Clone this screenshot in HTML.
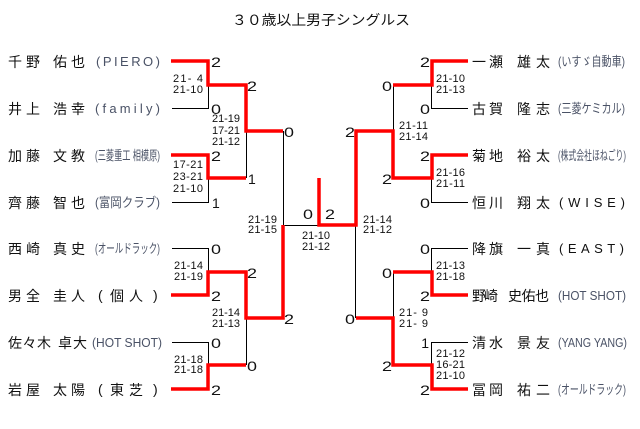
<!DOCTYPE html>
<html><head><meta charset="utf-8"><style>
html,body{margin:0;padding:0;background:#fff;}
svg{display:block;}
.n{font-family:"Liberation Sans","Noto Sans CJK JP",sans-serif;font-size:14px;fill:#111;}
.p{font-family:"Liberation Sans","Noto Sans CJK JP",sans-serif;font-size:13px;fill:#4a5266;}
.d{font-family:"Liberation Sans",sans-serif;font-size:14px;fill:#111;}
.s{font-family:"Liberation Sans",sans-serif;font-size:11px;fill:#111;}
.t{font-family:"Liberation Sans","Noto Sans CJK JP",sans-serif;font-size:14px;fill:#111;}
</style></head><body>
<svg width="640" height="429" viewBox="0 0 640 429" xmlns="http://www.w3.org/2000/svg">
<rect width="640" height="429" fill="#fff"/>
<text class="t" x="232" y="25" textLength="178" lengthAdjust="spacingAndGlyphs">３０歳以上男子シングルス</text>

<!-- black lines -->
<g fill="none" stroke="#000" stroke-width="1">
<path d="M172,108.5H208.5V85"/>
<path d="M172,202.5H208.5V178"/>
<path d="M172,248.5H208.5V272"/>
<path d="M172,342.5H208.5V365"/>
<path d="M246.5,131V178"/>
<path d="M246.5,318V365"/>
<path d="M283.5,131V225.5H319"/>
<path d="M468,108.5H431.5V85"/>
<path d="M468,202.5H431.5V178"/>
<path d="M468,248.5H431.5V272"/>
<path d="M468,342.5H431.5V365"/>
<path d="M393.5,85V131"/>
<path d="M393.5,272V318"/>
<path d="M355.5,225V318"/>
</g>
<!-- red lines -->
<g fill="none" stroke="#f00" stroke-width="3.5" stroke-linejoin="miter">
<path d="M171,61H208V85H246V131H283"/>
<path d="M171,155H208V178H246"/>
<path d="M171,295H208V272H246V318H283V225"/>
<path d="M171,389H208V365H246"/>
<path d="M468,61H432V85H393"/>
<path d="M468,155H432V178H393V131H356V225H319V178"/>
<path d="M468,295H432V272H393"/>
<path d="M468,389H432V365H393V318H356"/>
</g>

<!-- left names -->
<text class="n" x="8" y="67" textLength="32" lengthAdjust="spacing">千野</text>
<text class="n" x="53" y="67" textLength="32" lengthAdjust="spacing">佑也</text>
<text class="p" x="96" y="66" textLength="64" lengthAdjust="spacing">(PIERO)</text>

<text class="n" x="8" y="114" textLength="32" lengthAdjust="spacing">井上</text>
<text class="n" x="53" y="114" textLength="32" lengthAdjust="spacing">浩幸</text>
<text class="p" x="95" y="113" textLength="65" lengthAdjust="spacing">(family)</text>

<text class="n" x="8" y="161" textLength="32" lengthAdjust="spacing">加藤</text>
<text class="n" x="53" y="161" textLength="32" lengthAdjust="spacing">文教</text>
<text class="p" x="95" y="160" textLength="65" lengthAdjust="spacingAndGlyphs">(三菱重工 相模原)</text>

<text class="n" x="8" y="208" textLength="32" lengthAdjust="spacing">齊藤</text>
<text class="n" x="53" y="208" textLength="32" lengthAdjust="spacing">智也</text>
<text class="p" x="95" y="207" textLength="65" lengthAdjust="spacingAndGlyphs">(富岡クラブ)</text>

<text class="n" x="8" y="254" textLength="32" lengthAdjust="spacing">西崎</text>
<text class="n" x="53" y="254" textLength="32" lengthAdjust="spacing">真史</text>
<text class="p" x="95" y="253" textLength="65" lengthAdjust="spacingAndGlyphs">(オールドラック)</text>

<text class="n" x="8" y="301" textLength="32" lengthAdjust="spacing">男全</text>
<text class="n" x="53" y="301" textLength="32" lengthAdjust="spacing">圭人</text>
<text class="n" x="98" y="300">(</text>
<text class="n" x="110" y="301">個</text>
<text class="n" x="129" y="301">人</text>
<text class="n" x="153" y="300">)</text>

<text class="n" x="8" y="348" textLength="43" lengthAdjust="spacing">佐々木</text>
<text class="n" x="58" y="348" textLength="29" lengthAdjust="spacing">卓大</text>
<text class="p" x="92" y="347" textLength="70" lengthAdjust="spacingAndGlyphs">(HOT SHOT)</text>

<text class="n" x="8" y="395" textLength="32" lengthAdjust="spacing">岩屋</text>
<text class="n" x="53" y="395" textLength="32" lengthAdjust="spacing">太陽</text>
<text class="n" x="98" y="394">(</text>
<text class="n" x="110" y="395">東</text>
<text class="n" x="129" y="395">芝</text>
<text class="n" x="153" y="394">)</text>

<!-- right names -->
<text class="n" x="472" y="67" textLength="31" lengthAdjust="spacing">一瀬</text>
<text class="n" x="517" y="67" textLength="33" lengthAdjust="spacing">雄太</text>
<text class="p" x="558" y="66" textLength="67" lengthAdjust="spacingAndGlyphs">(いすゞ自動車)</text>

<text class="n" x="472" y="114" textLength="31" lengthAdjust="spacing">古賀</text>
<text class="n" x="517" y="114" textLength="33" lengthAdjust="spacing">隆志</text>
<text class="p" x="558" y="113" textLength="67" lengthAdjust="spacingAndGlyphs">(三菱ケミカル)</text>

<text class="n" x="472" y="161" textLength="31" lengthAdjust="spacing">菊地</text>
<text class="n" x="517" y="161" textLength="33" lengthAdjust="spacing">裕太</text>
<text class="p" x="558" y="160" textLength="68" lengthAdjust="spacingAndGlyphs">(株式会社ほねごり)</text>

<text class="n" x="472" y="208" textLength="31" lengthAdjust="spacing">恒川</text>
<text class="n" x="517" y="208" textLength="33" lengthAdjust="spacing">翔太</text>
<text class="n" x="559" y="207" textLength="66" lengthAdjust="spacing" style="font-size:13px">(WISE)</text>

<text class="n" x="472" y="254" textLength="31" lengthAdjust="spacing">降旗</text>
<text class="n" x="517" y="254" textLength="33" lengthAdjust="spacing">一真</text>
<text class="n" x="559" y="253" textLength="65" lengthAdjust="spacing" style="font-size:13px">(EAST)</text>

<text class="n" x="472" y="301" textLength="26" lengthAdjust="spacing">野崎</text>
<text class="n" x="508" y="301" textLength="41" lengthAdjust="spacing">史佑也</text>
<text class="p" x="558" y="300" textLength="68" lengthAdjust="spacingAndGlyphs">(HOT SHOT)</text>

<text class="n" x="472" y="348" textLength="31" lengthAdjust="spacing">清水</text>
<text class="n" x="517" y="348" textLength="33" lengthAdjust="spacing">景友</text>
<text class="p" x="558" y="347" textLength="69" lengthAdjust="spacingAndGlyphs">(YANG YANG)</text>

<text class="n" x="472" y="395" textLength="31" lengthAdjust="spacing">冨岡</text>
<text class="n" x="517" y="395" textLength="33" lengthAdjust="spacing">祐二</text>
<text class="p" x="558" y="394" textLength="68" lengthAdjust="spacingAndGlyphs">(オールドラック)</text>

<!-- game scores left -->
<g class="d">
<text x="211" y="67" textLength="10" lengthAdjust="spacingAndGlyphs">2</text>
<text x="211" y="114" textLength="10" lengthAdjust="spacingAndGlyphs">0</text>
<text x="211" y="161" textLength="10" lengthAdjust="spacingAndGlyphs">2</text>
<text x="212" y="208">1</text>
<text x="211" y="254" textLength="10" lengthAdjust="spacingAndGlyphs">0</text>
<text x="211" y="301" textLength="10" lengthAdjust="spacingAndGlyphs">2</text>
<text x="211" y="348" textLength="10" lengthAdjust="spacingAndGlyphs">0</text>
<text x="211" y="395" textLength="10" lengthAdjust="spacingAndGlyphs">2</text>
<text x="247" y="91" textLength="10" lengthAdjust="spacingAndGlyphs">2</text>
<text x="248" y="184">1</text>
<text x="247" y="278" textLength="10" lengthAdjust="spacingAndGlyphs">2</text>
<text x="247" y="371" textLength="10" lengthAdjust="spacingAndGlyphs">0</text>
<text x="284" y="137" textLength="10" lengthAdjust="spacingAndGlyphs">0</text>
<text x="284" y="324" textLength="10" lengthAdjust="spacingAndGlyphs">2</text>
<text x="303" y="219" textLength="10" lengthAdjust="spacingAndGlyphs">0</text>
<text x="325" y="219" textLength="10" lengthAdjust="spacingAndGlyphs">2</text>
</g>
<g class="d" text-anchor="end">
<text x="430" y="67" textLength="10" lengthAdjust="spacingAndGlyphs">2</text>
<text x="430" y="114" textLength="10" lengthAdjust="spacingAndGlyphs">0</text>
<text x="430" y="161" textLength="10" lengthAdjust="spacingAndGlyphs">2</text>
<text x="430" y="208" textLength="10" lengthAdjust="spacingAndGlyphs">0</text>
<text x="430" y="254" textLength="10" lengthAdjust="spacingAndGlyphs">0</text>
<text x="430" y="301" textLength="10" lengthAdjust="spacingAndGlyphs">2</text>
<text x="429" y="348">1</text>
<text x="430" y="395" textLength="10" lengthAdjust="spacingAndGlyphs">2</text>
<text x="392" y="91" textLength="10" lengthAdjust="spacingAndGlyphs">0</text>
<text x="392" y="184" textLength="10" lengthAdjust="spacingAndGlyphs">2</text>
<text x="392" y="278" textLength="10" lengthAdjust="spacingAndGlyphs">0</text>
<text x="392" y="371" textLength="10" lengthAdjust="spacingAndGlyphs">2</text>
<text x="355" y="137" textLength="10" lengthAdjust="spacingAndGlyphs">2</text>
<text x="355" y="324" textLength="10" lengthAdjust="spacingAndGlyphs">0</text>
</g>

<!-- set scores -->
<g class="s">
<text x="173" y="82" textLength="30" lengthAdjust="spacing">21- 4</text>
<text x="173" y="93" textLength="30" lengthAdjust="spacing">21-10</text>
<text x="173" y="168" textLength="30" lengthAdjust="spacing">17-21</text>
<text x="173" y="180" textLength="30" lengthAdjust="spacing">23-21</text>
<text x="173" y="192" textLength="30" lengthAdjust="spacing">21-10</text>
<text x="212" y="122" textLength="28" lengthAdjust="spacing">21-19</text>
<text x="212" y="134" textLength="28" lengthAdjust="spacing">17-21</text>
<text x="212" y="145" textLength="28" lengthAdjust="spacing">21-12</text>
<text x="174" y="269" textLength="29" lengthAdjust="spacing">21-14</text>
<text x="174" y="280" textLength="29" lengthAdjust="spacing">21-19</text>
<text x="212" y="316" textLength="28" lengthAdjust="spacing">21-14</text>
<text x="212" y="327" textLength="28" lengthAdjust="spacing">21-13</text>
<text x="174" y="363" textLength="29" lengthAdjust="spacing">21-18</text>
<text x="174" y="373" textLength="29" lengthAdjust="spacing">21-18</text>
<text x="248" y="223" textLength="29" lengthAdjust="spacing">21-19</text>
<text x="248" y="233" textLength="29" lengthAdjust="spacing">21-15</text>
<text x="302" y="239" textLength="28" lengthAdjust="spacing">21-10</text>
<text x="302" y="250" textLength="28" lengthAdjust="spacing">21-12</text>
<text x="363" y="223" textLength="29" lengthAdjust="spacing">21-14</text>
<text x="363" y="233" textLength="29" lengthAdjust="spacing">21-12</text>
<text x="436" y="82" textLength="29" lengthAdjust="spacing">21-10</text>
<text x="436" y="93" textLength="29" lengthAdjust="spacing">21-13</text>
<text x="399" y="129" textLength="29" lengthAdjust="spacing">21-11</text>
<text x="399" y="140" textLength="29" lengthAdjust="spacing">21-14</text>
<text x="436" y="176" textLength="29" lengthAdjust="spacing">21-16</text>
<text x="436" y="187" textLength="29" lengthAdjust="spacing">21-11</text>
<text x="436" y="269" textLength="29" lengthAdjust="spacing">21-13</text>
<text x="436" y="280" textLength="29" lengthAdjust="spacing">21-18</text>
<text x="399" y="316" textLength="29" lengthAdjust="spacing">21- 9</text>
<text x="399" y="327" textLength="29" lengthAdjust="spacing">21- 9</text>
<text x="436" y="357" textLength="29" lengthAdjust="spacing">21-12</text>
<text x="436" y="368" textLength="29" lengthAdjust="spacing">16-21</text>
<text x="436" y="379" textLength="29" lengthAdjust="spacing">21-10</text>
</g>
</svg>
</body></html>
